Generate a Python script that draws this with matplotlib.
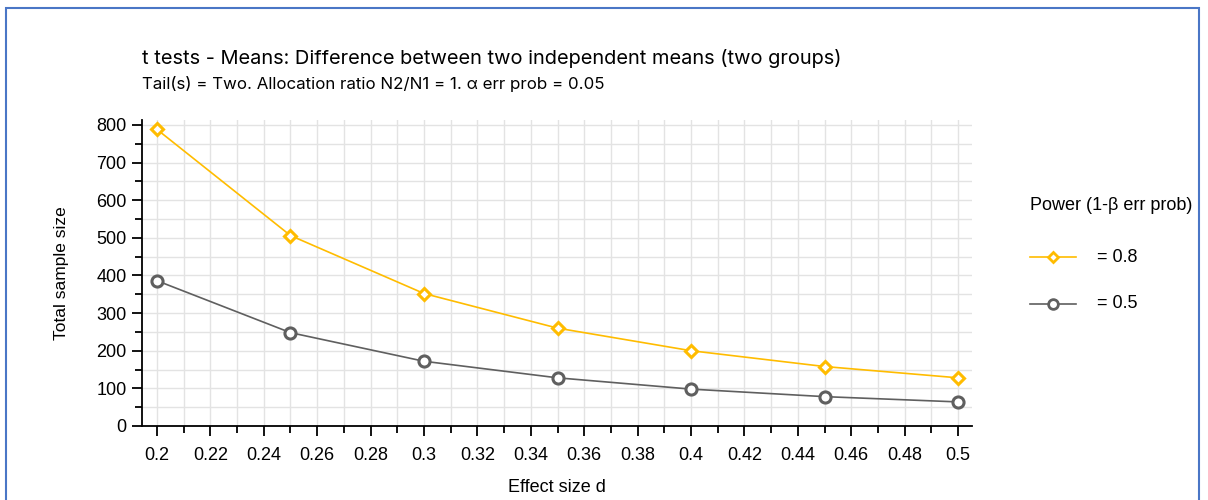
import matplotlib
matplotlib.use("Agg")
import matplotlib.pyplot as plt
from matplotlib.patches import Rectangle
from matplotlib.ticker import MultipleLocator, FuncFormatter
from matplotlib.lines import Line2D

plt.rcParams["font.family"] = ["Liberation Sans", "DejaVu Sans"]

# data
effect_size = [0.2, 0.25, 0.3, 0.35, 0.4, 0.45, 0.5]
n_power_08 = [788, 506, 352, 260, 200, 158, 128]
n_power_05 = [386, 248, 172, 128, 98, 78, 64]
series_labels = ["= 0.8", "= 0.5"]

yellow = "#FFBC00"
gray = "#5F5F5F"

fig = plt.figure(figsize=(12.08, 5), dpi=100)
ax = fig.add_axes([142 / 1208, 1 - 426 / 500, (972 - 142) / 1208, (426 - 120) / 500])

ax.plot(effect_size, n_power_08, color=yellow, lw=1.2, marker="D", ms=6.5,
        mfc="white", mec=yellow, mew=2.2, zorder=3)
ax.plot(effect_size, n_power_05, color=gray, lw=1.2, marker="o", ms=8,
        mfc="white", mec=gray, mew=2.2, zorder=3)

ax.set_xlim(0.1944, 0.5052)
ax.set_ylim(0, 813)
ax.xaxis.set_major_locator(MultipleLocator(0.02))
ax.xaxis.set_minor_locator(MultipleLocator(0.01))
ax.yaxis.set_major_locator(MultipleLocator(100))
ax.yaxis.set_minor_locator(MultipleLocator(50))
ax.xaxis.set_major_formatter(FuncFormatter(lambda v, p: f"{v:.2f}".rstrip("0").rstrip(".")))
ax.grid(True, which="both", color="#E3E3E3", lw=1)
ax.set_axisbelow(True)
for s in ["top", "right"]:
    ax.spines[s].set_visible(False)
for s in ["left", "bottom"]:
    ax.spines[s].set_linewidth(1.3)
ax.tick_params(which="major", length=7, width=1.3, labelsize=13, pad=8)
ax.tick_params(which="minor", length=5, width=1.3)
ax.tick_params(axis="y", pad=4)

ax.set_xlabel("Effect size d", fontsize=13, labelpad=11)
ax.set_ylabel("Total sample size", fontsize=12.5, labelpad=20)

fig.text(142 / 1208, 1 - 58 / 500, "t tests - Means: Difference between two independent means (two groups)",
         fontsize=14.4, va="center", ha="left", family=["Inter", "DejaVu Sans"])
fig.text(142 / 1208, 1 - 84 / 500, "Tail(s) = Two. Allocation ratio N2/N1 = 1. α err prob = 0.05",
         fontsize=12.2, va="center", ha="left", family=["Inter", "DejaVu Sans"])

# legend drawn manually
fig.text(1030 / 1208, 1 - 206 / 500, "Power (1-β err prob)", fontsize=13, va="center", ha="left")
for y, c, m, ms, lab in [(257, yellow, "D", 5.5, series_labels[0]), (304, gray, "o", 7, series_labels[1])]:
    yf = 1 - y / 500
    fig.add_artist(Line2D([1030 / 1208, 1076 / 1208], [yf, yf], color=c, lw=1.2))
    fig.add_artist(Line2D([1053 / 1208], [yf], color=c, marker=m, ms=ms, mfc="white", mec=c, mew=2))
    fig.text(1097 / 1208, yf, lab, fontsize=13, va="center", ha="left")

# blue frame
fig.add_artist(Rectangle((6 / 1208, -0.1), 1193 / 1208, 1 - 8 / 500 + 0.1, transform=fig.transFigure,
                         fill=False, ec="#4A76C6", lw=1.5))

fig.savefig("out.png", dpi=100)
